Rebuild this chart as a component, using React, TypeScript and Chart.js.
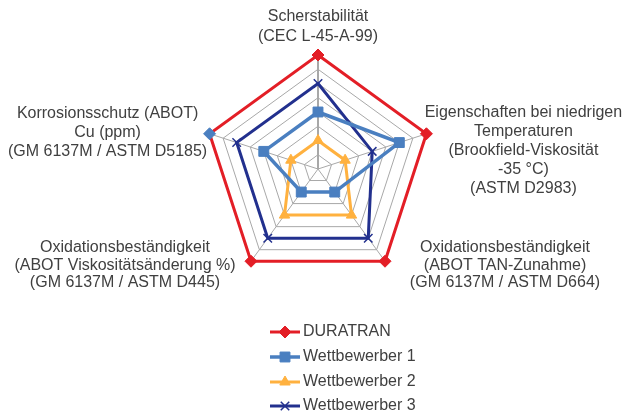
import React, { useEffect, useRef } from "react";
import { Chart, registerables } from "chart.js";
import { drawPoint } from "chart.js/helpers";

Chart.register(...registerables);

// ---------- data ----------
const categories: string[][] = [
  ["Scherstabilität", "(CEC L-45-A-99)"],
  ["Eigenschaften bei niedrigen", "Temperaturen", "(Brookfield-Viskosität", "-35 °C)", "(ASTM D2983)"],
  ["Oxidationsbeständigkeit", "(ABOT TAN-Zunahme)", "(GM 6137M / ASTM D664)"],
  ["Oxidationsbeständigkeit", "(ABOT Viskositätsänderung %)", "(GM 6137M / ASTM D445)"],
  ["Korrosionsschutz (ABOT)", "Cu (ppm)", "(GM 6137M / ASTM D5185)"],
];
const seriesNames = ["DURATRAN", "Wettbewerber 1", "Wettbewerber 2", "Wettbewerber 3"];
const duratran = [8, 8, 8, 8, 8];
const wettbewerber1 = [4, 6, 2, 2, 4];
const wettbewerber2 = [2, 2, 4, 4, 2];
const wettbewerber3 = [6, 4, 6, 6, 6];
const scaleMin = 0;
const scaleMax = 8;
const scaleStep = 1;

// ---------- styles ----------
const FONT = '"Liberation Sans", Arial, Helvetica, sans-serif';
const TEXT_COLOR = "#404040";
const RED = "#e31e26";
const BLUE = "#4a7fc0";
const ORANGE = "#ffb13f";
const NAVY = "#22308e";
const GRID = "#a8a8a8";

// label block centre offsets relative to each axis end point
const LABEL_OFFSETS: [number, number][] = [
  [0, -28],
  [97, 17],
  [120, 4],
  [-126, 4],
  [-102, -1],
];
const LABEL_LINE_HEIGHTS = [20, 19, 17.5, 17.5, 19];

const LEGEND_LINE_X = [270, 300];
const LEGEND_TEXT_X = 303;
const LEGEND_Y = [332, 357, 382, 406];

const pointLabelPlugin = {
  id: "customPointLabels",
  afterDraw(chart: any) {
    const scale = chart.scales.r;
    const ctx = chart.ctx;
    ctx.save();
    ctx.font = `16px ${FONT}`;
    ctx.fillStyle = TEXT_COLOR;
    ctx.textAlign = "center";
    ctx.textBaseline = "middle";
    (chart.data.labels as string[][]).forEach((lines, i) => {
      const p = scale.getPointPosition(i, scale.drawingArea);
      const [dx, dy] = LABEL_OFFSETS[i];
      const lh = LABEL_LINE_HEIGHTS[i];
      const cx = p.x + dx;
      const cy = p.y + dy;
      const y0 = cy - ((lines.length - 1) * lh) / 2;
      lines.forEach((t, k) => ctx.fillText(t, cx, y0 + k * lh));
    });
    ctx.restore();
  },
};

const legendPlugin = {
  id: "customLegend",
  afterDraw(chart: any) {
    const ctx = chart.ctx;
    ctx.save();
    chart.data.datasets.forEach((ds: any, i: number) => {
      const y = LEGEND_Y[i];
      ctx.strokeStyle = ds.borderColor;
      ctx.lineWidth = ds.borderWidth;
      ctx.beginPath();
      ctx.moveTo(LEGEND_LINE_X[0], y);
      ctx.lineTo(LEGEND_LINE_X[1], y);
      ctx.stroke();
      const mx = (LEGEND_LINE_X[0] + LEGEND_LINE_X[1]) / 2;
      ctx.fillStyle = ds.borderColor;
      ctx.strokeStyle = ds.borderColor;
      ctx.lineWidth = ds.pointBorderWidth;
      drawPoint(ctx, { pointStyle: ds.pointStyle, radius: ds.pointRadius, rotation: 0, borderWidth: ds.pointBorderWidth } as any, mx, y);
      ctx.font = `16px ${FONT}`;
      ctx.fillStyle = TEXT_COLOR;
      ctx.textAlign = "left";
      ctx.textBaseline = "middle";
      ctx.fillText(ds.label, LEGEND_TEXT_X, y);
    });
    ctx.restore();
  },
};

export default function App() {
  const canvasRef = useRef<HTMLCanvasElement | null>(null);

  useEffect(() => {
    document.body.style.margin = "0";
    const canvas = canvasRef.current;
    if (!canvas) return;
    const chart = new Chart(canvas, {
      type: "radar",
      data: {
        labels: categories,
        datasets: [
          {
            label: seriesNames[0],
            data: duratran,
            borderColor: RED,
            backgroundColor: RED,
            borderWidth: 3,
            fill: false,
            pointStyle: "rectRot",
            pointRadius: 6,
            pointBorderWidth: 1,
            pointBackgroundColor: [RED, RED, RED, RED, BLUE],
            pointBorderColor: [RED, RED, RED, RED, BLUE],
          },
          {
            label: seriesNames[1],
            data: wettbewerber1,
            borderColor: BLUE,
            backgroundColor: BLUE,
            borderWidth: 3.5,
            fill: false,
            pointStyle: "rect",
            pointRadius: 7,
            pointBorderWidth: 1,
            pointBackgroundColor: BLUE,
            pointBorderColor: BLUE,
          },
          {
            label: seriesNames[2],
            data: wettbewerber2,
            borderColor: ORANGE,
            backgroundColor: ORANGE,
            borderWidth: 3,
            fill: false,
            pointStyle: "triangle",
            pointRadius: 6,
            pointBorderWidth: 1,
            pointBackgroundColor: ORANGE,
            pointBorderColor: ORANGE,
          },
          {
            label: seriesNames[3],
            data: wettbewerber3,
            borderColor: NAVY,
            backgroundColor: NAVY,
            borderWidth: 3,
            fill: false,
            pointStyle: "crossRot",
            pointRadius: 6,
            pointBorderWidth: 1.5,
            pointBackgroundColor: NAVY,
            pointBorderColor: NAVY,
          },
        ],
      },
      options: {
        animation: false,
        responsive: true,
        maintainAspectRatio: false,
        layout: { padding: { left: 10, right: 0, top: 55, bottom: 131 } },
        plugins: {
          legend: { display: false },
          tooltip: { enabled: false },
          title: { display: false },
        },
        elements: { line: { tension: 0 } },
        scales: {
          r: {
            min: scaleMin,
            max: scaleMax,
            beginAtZero: true,
            ticks: { display: false, stepSize: scaleStep },
            grid: { color: GRID, lineWidth: 1 },
            angleLines: {
              color: GRID,
              lineWidth: (c: any) => (c.index === 0 ? 2 : 1),
            },
            pointLabels: { display: false },
          },
        },
      },
      plugins: [pointLabelPlugin, legendPlugin],
    });
    return () => chart.destroy();
  }, []);

  return (
    <div style={{ position: "relative", width: 626, height: 415 }}>
      <canvas ref={canvasRef} />
    </div>
  );
}
